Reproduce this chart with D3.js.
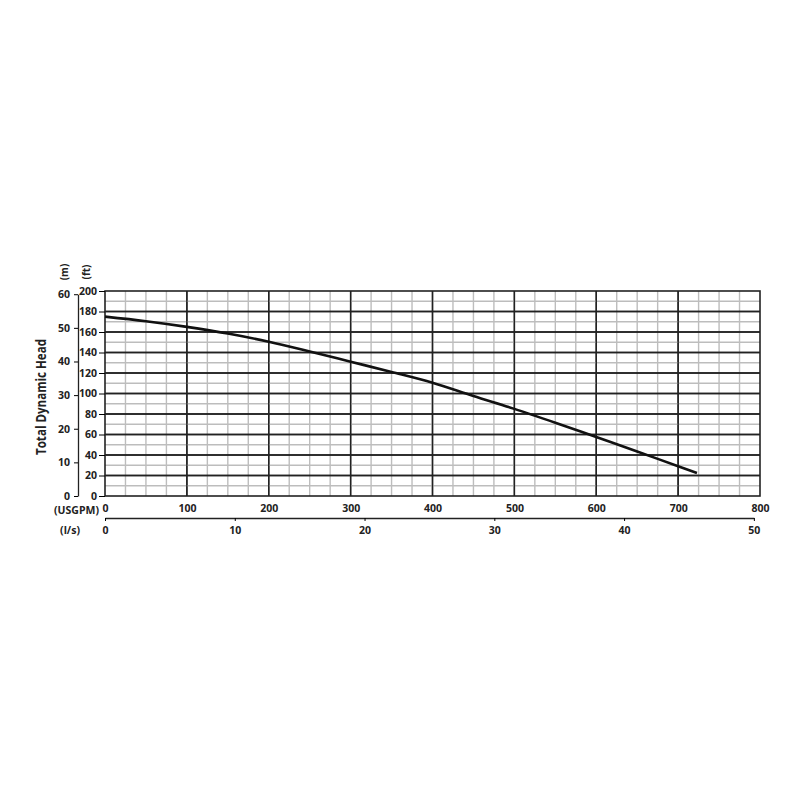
<!DOCTYPE html>
<meta charset="utf-8">
<style>
body { margin: 0; background: #fff; }
text { font-family: "Open Sans", "Liberation Sans", sans-serif; font-weight: bold; fill: #222; }
.grid-minor { stroke: #bdbdbd; stroke-width: 1.4; }
.grid-major { stroke: #222; stroke-width: 1.4; }
</style>
<svg width="800" height="800"></svg>
<script src="https://cdn.jsdelivr.net/npm/d3@7"></script>
<script>

// pump curve
var flowGpm = [0, 50, 100, 150, 200, 250, 300, 350, 400, 450, 500, 550, 600, 650, 700, 723];
var headFt  = [175, 170.5, 165, 158.5, 150.5, 141, 131, 121, 110.5, 97.5, 85, 71.5, 57.5, 43.5, 29, 22.5];

var gpmTicks = [0, 100, 200, 300, 400, 500, 600, 700, 800];
var lpsTicks = [0, 10, 20, 30, 40, 50];
var ftTicks  = [0, 20, 40, 60, 80, 100, 120, 140, 160, 180, 200];
var mTicks   = [0, 10, 20, 30, 40, 50, 60];

var GPM_PER_LPS = 15.850, FT_PER_M = 3.28084;

var svg = d3.select("svg"),
    margin = {left: 105, right: 40, top: 291, bottom: 304},
    width = 800 - margin.left - margin.right,
    height = 800 - margin.top - margin.bottom;

var x = d3.scaleLinear().domain([0, 800]).range([0, width]),
    y = d3.scaleLinear().domain([0, 200]).range([height, 0]);

var g = svg.append("g")
    .attr("transform", "translate(" + margin.left + "," + margin.top + ")");

// grid
g.selectAll(".vx").data(d3.range(25, 800, 25)).enter().append("line")
    .attr("class", function(d) { return d % 100 ? "grid-minor" : "grid-major"; })
    .attr("x1", x).attr("x2", x).attr("y1", 0).attr("y2", height);
g.selectAll(".hy").data(d3.range(10, 200, 10)).enter().append("line")
    .attr("class", function(d) { return d % 20 ? "grid-minor" : "grid-major"; })
    .attr("y1", y).attr("y2", y).attr("x1", 0).attr("x2", width);
// redraw the major ones on top of minor crossings
g.selectAll(".hy2").data(d3.range(20, 200, 20)).enter().append("line")
    .attr("class", "grid-major")
    .attr("y1", y).attr("y2", y).attr("x1", 0).attr("x2", width);
g.selectAll(".vx2").data(d3.range(100, 800, 100)).enter().append("line")
    .attr("class", "grid-major")
    .attr("x1", x).attr("x2", x).attr("y1", 0).attr("y2", height);

g.append("rect")
    .attr("width", width).attr("height", height)
    .attr("fill", "none").attr("stroke", "#222").attr("stroke-width", 1.6);

// curve
var line = d3.line()
    .x(function(d) { return x(d[0]); })
    .y(function(d) { return y(d[1]); })
    .curve(d3.curveMonotoneX);

g.append("path")
    .datum(d3.zip(flowGpm, headFt))
    .attr("fill", "none")
    .attr("stroke", "#111")
    .attr("stroke-width", 2.6)
    .attr("d", line);

// ft axis
var ftAxis = g.append("g")
    .call(d3.axisLeft(y).tickValues(ftTicks).tickSize(6).tickPadding(2));
ftAxis.select(".domain").remove();
ftAxis.selectAll("text").style("font-size", "10.5px");

// m axis
var yM = d3.scaleLinear().domain([0, 60]).range([height, y(60 * FT_PER_M)]);
var mAxis = g.append("g")
    .attr("transform", "translate(-27,0)")
    .call(d3.axisLeft(yM).tickValues(mTicks).tickSize(4).tickSizeOuter(0).tickPadding(4));
mAxis.selectAll("text").style("font-size", "10.5px");
mAxis.select(".domain").attr("stroke", "#222").attr("stroke-width", 1.3);

// USGPM axis labels
var gpmAxis = g.append("g")
    .attr("transform", "translate(0," + height + ")")
    .call(d3.axisBottom(x).tickValues(gpmTicks).tickSize(0).tickPadding(9));
gpmAxis.select(".domain").remove();
gpmAxis.selectAll("text").style("font-size", "10.5px");

// l/s axis
var xL = d3.scaleLinear().domain([0, 50]).range([0, x(50 * GPM_PER_LPS)]);
var lAxis = g.append("g")
    .attr("transform", "translate(0," + (height + 22) + ")")
    .call(d3.axisBottom(xL).tickValues(lpsTicks).tickSize(3).tickSizeOuter(0).tickPadding(6));
lAxis.select(".domain").attr("stroke", "#222").attr("stroke-width", 1.3);
lAxis.selectAll("text").style("font-size", "10.5px");

// unit labels
svg.append("text").attr("x", 99).attr("y", 514).attr("text-anchor", "end")
    .style("font-size", "10.5px").text("(USGPM)");
svg.append("text").attr("x", 80).attr("y", 534).attr("text-anchor", "end")
    .style("font-size", "10.5px").text("(l/s)");
svg.append("text").attr("transform", "translate(68,272) rotate(-90)")
    .attr("text-anchor", "middle").style("font-size", "10px").text("(m)");
svg.append("text").attr("transform", "translate(90,272) rotate(-90)")
    .attr("text-anchor", "middle").style("font-size", "10px").text("(ft)");

svg.append("text")      // y axis title
    .attr("transform", "translate(46,397) rotate(-90)")
    .attr("text-anchor", "middle")
    .attr("textLength", 116)
    .attr("lengthAdjust", "spacingAndGlyphs")
    .style("font-size", "13.5px")
    .text("Total Dynamic Head");

</script>
